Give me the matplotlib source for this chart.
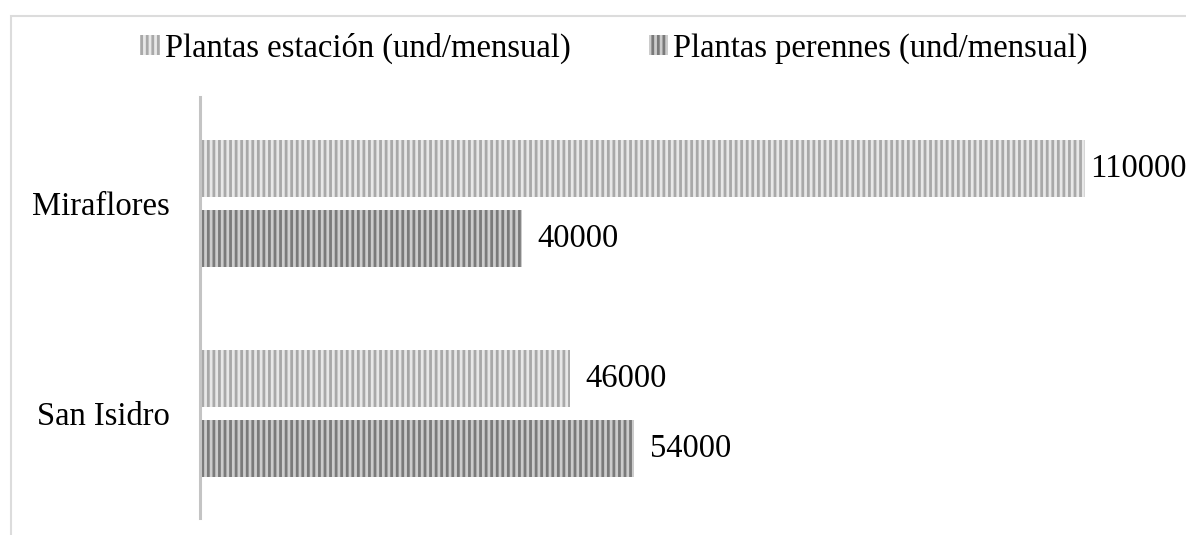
import matplotlib.pyplot as plt
import matplotlib.patches as mpatches
import numpy as np

# data
distritos = ['Miraflores', 'San Isidro']
plantas_estacion = [110000, 46000]
plantas_perennes = [40000, 54000]
series_labels = ['Plantas estación (und/mensual)', 'Plantas perennes (und/mensual)']

plt.rcParams['font.family'] = ['Liberation Serif', 'DejaVu Serif']
plt.rcParams['hatch.linewidth'] = 2.0

W, H = 1186, 535
FS = 23.5
fig = plt.figure(figsize=(W / 100, H / 100), dpi=100)
ax = fig.add_axes([200 / W, 1 - 518 / H, (W - 200) / W, (518 - 97) / H])

y = np.arange(len(distritos))
h = 0.272
off = 0.167

b1 = ax.barh(y - off, plantas_estacion, height=h, color='#e8e8e8',
             edgecolor='#a9a9a9', linewidth=0, hatch='|||',
             label=series_labels[0])
b2 = ax.barh(y + off, plantas_perennes, height=h, color='#cccccc',
             edgecolor='#7a7a7a', linewidth=0, hatch='|||',
             label=series_labels[1])

ax.set_xlim(0, (W - 200) / ((1085 - 200) / 110000))
ax.set_ylim(1.498, -0.507)

for bars in (b1, b2):
    for rect in bars:
        v = rect.get_width()
        pad = 4 if v >= 100000 else 11
        ax.annotate(f'{int(v)}', (v, rect.get_y() + rect.get_height() / 2),
                    xytext=(pad, 0), textcoords='offset points',
                    ha='left', va='center', fontsize=FS, color='black',
                    annotation_clip=False)

ax.set_yticks(y)
ax.set_yticklabels(distritos, fontsize=FS)
ax.tick_params(axis='y', length=0, pad=22)
ax.set_xticks([])
for s in ('top', 'right', 'bottom'):
    ax.spines[s].set_visible(False)
ax.spines['left'].set_color('#c4c4c4')
ax.spines['left'].set_linewidth(2.2)

fig.legend(loc='center', bbox_to_anchor=(614 / W, 1 - 48 / H), ncol=2,
           frameon=False, fontsize=FS, handlelength=0.6, handleheight=0.6,
           handletextpad=0.15, columnspacing=2.4)

# outer light frame (cut off at right and bottom in the reference)
frame = mpatches.Rectangle((11 / W, -0.1), 1.2, (H - 16) / H + 0.1,
                           transform=fig.transFigure, fill=False,
                           edgecolor='#dcdcdc', linewidth=1.5, clip_on=False)
fig.patches.append(frame)

fig.savefig('out.png', dpi=100)
